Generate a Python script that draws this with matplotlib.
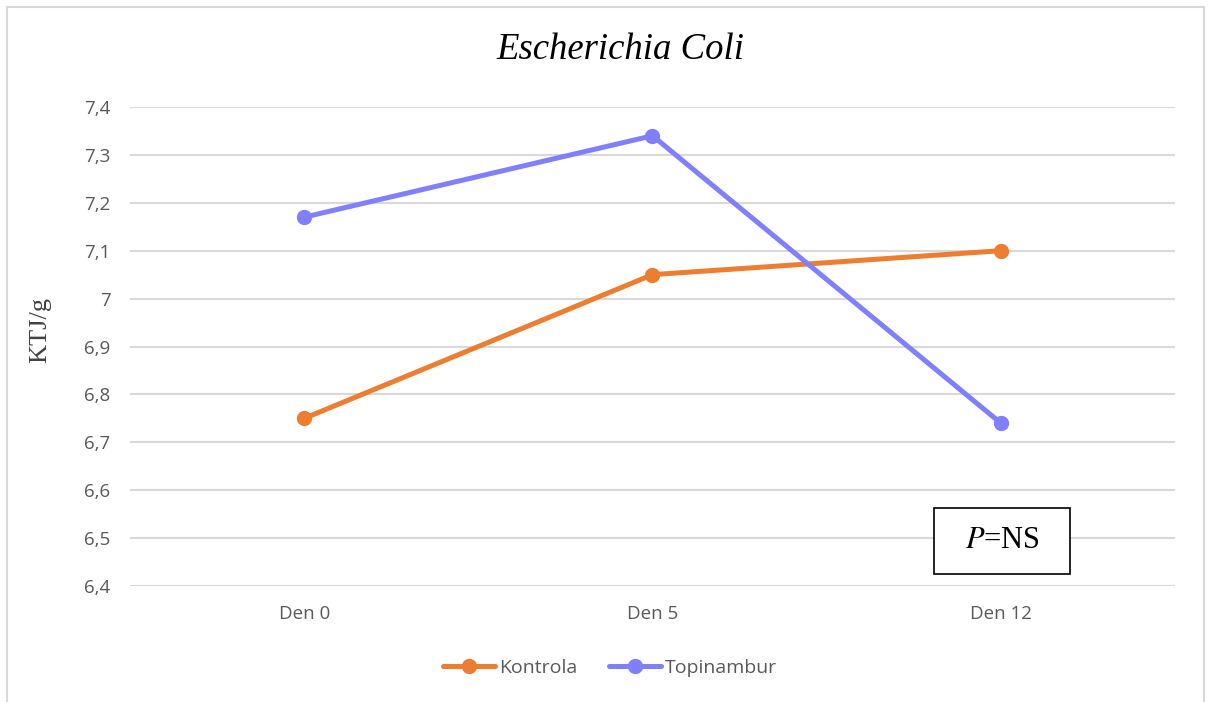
import matplotlib.pyplot as plt
from matplotlib.patches import Rectangle

plt.rcParams["mathtext.fontset"] = "stix"

# data
days = ["Den 0", "Den 5", "Den 12"]
kontrola = [6.75, 7.05, 7.10]
topinambur = [7.17, 7.34, 6.74]
yticks = [6.4, 6.5, 6.6, 6.7, 6.8, 6.9, 7.0, 7.1, 7.2, 7.3, 7.4]
ytick_labels = ["6,4", "6,5", "6,6", "6,7", "6,8", "6,9", "7", "7,1", "7,2", "7,3", "7,4"]

W, H = 1208, 702
fig = plt.figure(figsize=(W / 100, H / 100), dpi=100)
ax = fig.add_axes([130 / W, 1 - 586 / H, 1045 / W, (586 - 107) / H])

x = range(len(days))
ax.plot(x, kontrola, color="#ED7D31", lw=3.6, marker="o", ms=10, label="Kontrola",
        solid_capstyle="round", zorder=3)
ax.plot(x, topinambur, color="#7F7FFF", lw=3.6, marker="o", ms=10, label="Topinambur",
        solid_capstyle="round", zorder=3)

ax.set_xlim(-0.5, 2.5)
ax.set_ylim(6.4, 7.4)
ax.set_xticks(list(x))
ax.set_xticklabels(days, family="Open Sans", fontsize=13.5, color="#595959")
ax.set_yticks(yticks)
ax.set_yticklabels(ytick_labels, family="Open Sans", fontsize=13.5, color="#595959")
ax.tick_params(length=0, pad=14)
ax.tick_params(axis="x", pad=14)
ax.grid(axis="y", color="#D9D9D9", lw=1.5)
for s in ax.spines.values():
    s.set_visible(False)

fig.text(40 / W, 1 - 330 / H, "KTJ/g", family="Liberation Serif", fontsize=19, color="#404040",
         rotation=90, ha="center", va="center")

fig.text(620 / W, 1 - 50 / H, "Escherichia Coli", family="Liberation Serif", style="italic",
         fontsize=26.5, ha="center", va="center")

# P=NS box
ax.add_patch(Rectangle((934 / W, 1 - 574 / H), 136 / W, 66 / H, transform=fig.transFigure,
                       fill=True, facecolor="white", edgecolor="black", lw=1.2, zorder=4))
fig.text(1002 / W, 1 - 541 / H, r"$P$=NS", family="Liberation Serif", fontsize=22,
         ha="center", va="center", zorder=5)

leg = fig.legend(loc="center", bbox_to_anchor=(610 / W, 1 - 668 / H), ncol=2, frameon=False,
                 prop={"family": "Open Sans", "size": 14}, handlelength=2.7,
                 handletextpad=0.2, columnspacing=1.6)
for t in leg.get_texts():
    t.set_color("#595959")

fig.add_artist(Rectangle((7 / W, -0.01), 1197 / W, 1 - 7 / H + 0.01, transform=fig.transFigure,
                         fill=False, edgecolor="#D9D9D9", lw=1.5))

fig.savefig("out.png", dpi=100)
